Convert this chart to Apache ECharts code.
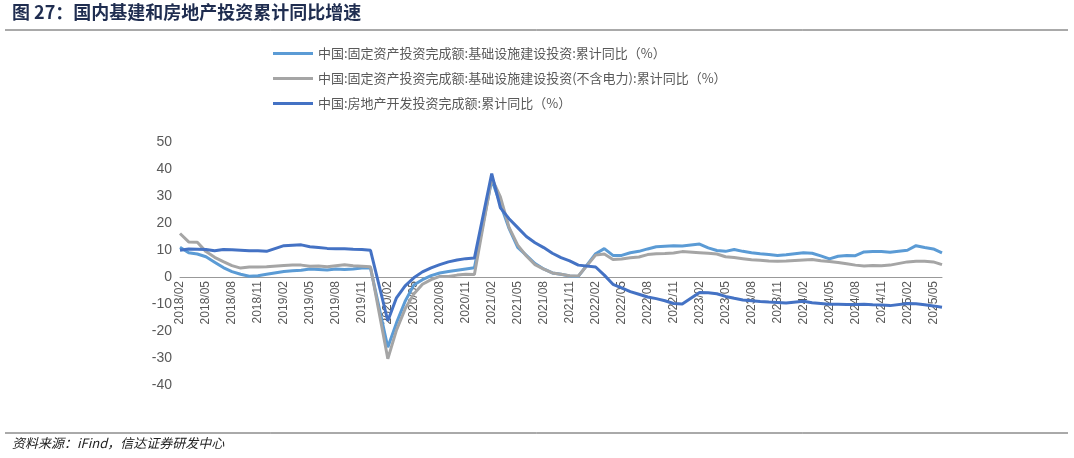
<!DOCTYPE html>
<html><head><meta charset="utf-8">
<script src="https://cdn.jsdelivr.net/npm/echarts@6/dist/echarts.min.js"></script>
<style>html,body{margin:0;padding:0;background:#fff;}#c{width:1074px;height:458px;}</style>
</head><body><div id="c"></div>
<script>
const categories = [];
for (let y = 2018; y <= 2025; y++) for (let m = 1; m <= 12; m++) {
  if (y === 2018 && m < 2) continue;
  if (y === 2025 && m > 6) continue;
  categories.push(y + '/' + String(m).padStart(2, '0'));
}
const seriesNames = ['中国:固定资产投资完成额:基础设施建设投资:累计同比（%）','中国:固定资产投资完成额:基础设施建设投资(不含电力):累计同比（%）','中国:房地产开发投资完成额:累计同比（%）'];
const infra = [11,9,8.5,7.5,5.5,3.5,2,1,0.3,0.5,1,
 null,2,2.3,2.5,3,2.8,2.6,3,2.8,3,3.3,3.3,
 null,-26,-17,-9,-3,-1,0.5,1.5,2,2.5,3,3.4,
 null,36,27,18,11,8,5,3,1.5,1,0.4,0.2,
 null,8.6,10.5,8,8,9,9.5,10.4,11.2,11.4,11.6,11.5,
 null,12.2,10.8,9.8,9.5,10.2,9.5,9,8.6,8.3,8,8.2,
 null,9,8.8,7.8,6.7,7.7,8,7.9,9.3,9.4,9.4,9.2,
 null,9.9,11.6,10.9,10.4,8.9];
const infraExPower = [16.1,13,12.9,9.4,7.3,5.7,4.2,3.3,3.7,3.7,3.8,
 null,4.3,4.4,4.4,4,4.1,3.8,4.2,4.5,4.2,4,3.8,
 null,-30.3,-19.7,-11.8,-6.3,-2.7,-1,0.2,0.2,0.7,1,0.9,
 null,36.6,29.7,18.4,11.8,7.8,4.6,2.9,1.5,1,0.5,0.4,
 null,8.1,8.5,6.5,6.7,7.1,7.4,8.3,8.6,8.7,8.9,9.4,
 null,9,8.8,8.5,7.5,7.2,6.8,6.4,6.2,5.9,5.8,5.9,
 null,6.3,6.5,6,5.7,5.4,4.9,4.4,4.1,4.3,4.2,4.4,
 null,5.6,5.8,5.8,5.6,4.6];
const realEstate = [9.9,10.4,10.3,10.2,9.7,10.2,10.1,9.9,9.7,9.7,9.5,
 null,11.6,11.8,11.9,11.2,10.9,10.6,10.5,10.5,10.3,10.2,9.9,
 null,-16.3,-7.7,-3.3,-0.3,1.9,3.4,4.6,5.6,6.3,6.8,7,
 null,38.3,25.6,21.6,18.3,15,12.7,10.9,8.8,7.2,6,4.4,
 null,3.7,0.7,-2.7,-4,-5.4,-6.4,-7.4,-8,-8.8,-9.8,-10,
 null,-5.7,-5.8,-6.2,-7.2,-7.9,-8.5,-8.8,-9.1,-9.3,-9.4,-9.6,
 null,-9,-9.5,-9.8,-10.1,-10.1,-10.2,-10.2,-10.1,-10.3,-10.4,-10.6,
 null,-9.8,-9.9,-10.3,-10.7,-11.2];
const colors = ['#5B9BD5','#A5A5A5','#4472C4'];
const chart = echarts.init(document.getElementById('c'));
const font = '"Noto Sans CJK SC", sans-serif';
chart.setOption({
  animation: false,
  graphic: [
    {type:'text', left: 12, top: 3, style:{text:'图 27：国内基建和房地产投资累计同比增速', font:'bold 18px "Noto Sans CJK SC"', fill:'#1F2D50'}},
    {type:'line', shape:{x1:5,y1:30,x2:1068,y2:30}, style:{stroke:'#555', lineWidth:1}},
    {type:'line', shape:{x1:5,y1:433,x2:1068,y2:433}, style:{stroke:'#555', lineWidth:1}},
    {type:'text', left: 12, top: 437, style:{text:'资料来源：iFind，信达证券研发中心', font:'italic 13px "Noto Sans CJK SC"', fill:'#222'}}
  ],
  legend: {
    orient:'vertical', left: 268, top: 42, itemGap: 12, itemWidth: 40, itemHeight: 3,
    icon: 'rect',
    textStyle:{fontFamily:font, fontSize:13, color:'#595959'},
    data: seriesNames
  },
  grid: {left: 180, right: 132, top: 142, bottom: 73, containLabel: false},
  xAxis: {
    type:'category', data: categories, boundaryGap: false,
    offset: -108,
    axisLine:{onZero:false, lineStyle:{color:'#999'}},
    axisTick:{show:false},
    axisLabel:{interval:2, rotate:90, margin:4, fontFamily:'Liberation Sans, sans-serif', fontSize:12, color:'#595959'}
  },
  yAxis: {
    type:'value', min:-40, max:50, interval:10,
    splitLine:{show:false}, axisLine:{show:false}, axisTick:{show:false},
    axisLabel:{fontFamily:'Liberation Sans, sans-serif', fontSize:14, color:'#595959'}
  },
  series: [infra, infraExPower, realEstate].map((d,i)=>({
    name: seriesNames[i], type:'line', data:d, connectNulls:true, showSymbol:false,
    lineStyle:{width:3, color:colors[i]}, itemStyle:{color:colors[i]}, z: i===2?3:2
  }))
});
</script></body></html>
